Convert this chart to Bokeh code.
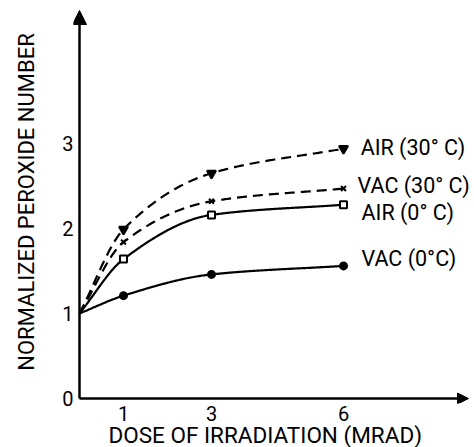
import numpy as np
from bokeh.plotting import figure
from bokeh.models import Range1d, FixedTicker, Arrow, NormalHead, Label, Title
from bokeh.embed import file_html
from bokeh.resources import INLINE

# Dose (Mrad) and normalized peroxide number for each storage condition
dose = [0, 1, 3, 6]
air_30 = [1.0, 1.99, 2.65, 2.94]
vac_30 = [1.0, 1.84, 2.32, 2.47]
air_0 = [1.0, 1.64, 2.16, 2.28]
vac_0 = [1.0, 1.21, 1.46, 1.56]

series_names = ["AIR (30° C)", "VAC (30° C)", "AIR (0° C)", "VAC (0°C)"]
x_ticks = [1, 3, 6]
y_ticks = [0, 1, 2, 3]

FONT = "Roboto"


def smooth(xs, ys, n=200):
    """Monotone cubic (Fritsch-Carlson) curve through the measured points."""
    xs = np.asarray(xs, float)
    ys = np.asarray(ys, float)
    h = np.diff(xs)
    d = np.diff(ys) / h
    m = np.zeros_like(ys)
    m[0] = d[0]
    m[-1] = d[-1]
    for i in range(1, len(xs) - 1):
        if d[i - 1] * d[i] <= 0:
            m[i] = 0
        else:
            w1 = 2 * h[i] + h[i - 1]
            w2 = h[i] + 2 * h[i - 1]
            m[i] = (w1 + w2) / (w1 / d[i - 1] + w2 / d[i])
    xx = np.linspace(xs[0], xs[-1], n)
    yy = np.empty_like(xx)
    for k, x in enumerate(xx):
        i = min(np.searchsorted(xs, x, side="right") - 1, len(xs) - 2)
        t = (x - xs[i]) / h[i]
        h00 = 2 * t**3 - 3 * t**2 + 1
        h10 = t**3 - 2 * t**2 + t
        h01 = -2 * t**3 + 3 * t**2
        h11 = t**3 - t**2
        yy[k] = h00 * ys[i] + h10 * h[i] * m[i] + h01 * ys[i + 1] + h11 * h[i] * m[i + 1]
    return xx, yy


p = figure(
    width=474,
    height=447,
    output_backend="svg",
    toolbar_location=None,
    x_range=Range1d(-6 / 44, 395 / 44),
    y_range=Range1d(-5 / 85, 398 / 85),
    min_border_left=73,
    min_border_right=0,
    min_border_top=0,
    min_border_bottom=44,
)
p.grid.visible = False
p.outline_line_color = None
p.background_fill_color = "white"
p.border_fill_color = "white"

for ax in (p.xaxis, p.yaxis):
    ax.axis_line_color = None
    ax.major_tick_line_color = None
    ax.minor_tick_line_color = None
    ax.major_tick_out = 0
    ax.major_tick_in = 0
    ax.major_label_text_font = FONT
    ax.major_label_text_font_size = "20px"
    ax.major_label_text_color = "black"
    ax.axis_label_text_font = FONT
    ax.axis_label_text_font_style = "normal"
    ax.axis_label_text_color = "black"

p.xaxis.ticker = FixedTicker(ticks=x_ticks)
p.yaxis.ticker = FixedTicker(ticks=y_ticks)
p.yaxis.axis_label = "NORMALIZED PEROXIDE NUMBER"
p.yaxis.axis_label_text_font_size = "22px"
p.xaxis.major_label_standoff = 2
p.yaxis.major_label_standoff = 0
p.yaxis.axis_label_standoff = 20

# x-axis title, set a little left of the frame centre
p.add_layout(Title(text="DOSE OF IRRADIATION (MRAD)", align="left", offset=35,
                   text_font=FONT, text_font_size="22.5px", text_font_style="normal",
                   text_color="black", standoff=-8), "below")

# Axes drawn as arrows from the origin
head_kw = dict(fill_color="black", line_color="black", line_width=1)
p.add_layout(Arrow(end=NormalHead(size=14, **head_kw), x_start=0, y_start=0,
                   x_end=0, y_end=388 / 85, line_width=2.5, line_color="black"))
p.add_layout(Arrow(end=NormalHead(size=11, **head_kw), x_start=0, y_start=0,
                   x_end=389 / 44, y_end=0, line_width=2.5, line_color="black"))

# Curves
styles = [
    (air_30, "10 6", "inverted_triangle", 9, True),
    (vac_30, "10 6", "x", 7, False),
    (air_0, "solid", "square", 7, False),
    (vac_0, "solid", "circle", 7, True),
]
for ys, dash, marker, size, filled in styles:
    xx, yy = smooth(dose, ys)
    p.line(xx, yy, line_color="black", line_width=2.2, line_dash=dash)
    p.scatter(dose[1:], ys[1:], marker=marker, size=size, line_color="black",
              line_width=2, fill_color="black" if filled else "white")

# Series names at the right end of each curve
label_pos = [(6.39, 2.95), (6.32, 2.51), (6.41, 2.19), (6.41, 1.65)]
for name, (lx, ly) in zip(series_names, label_pos):
    p.add_layout(Label(x=lx, y=ly, text=name, text_font=FONT, text_font_size="21.5px",
                       text_baseline="middle", text_align="left", text_color="black"))

open("out.html", "w").write(file_html(p, INLINE))
